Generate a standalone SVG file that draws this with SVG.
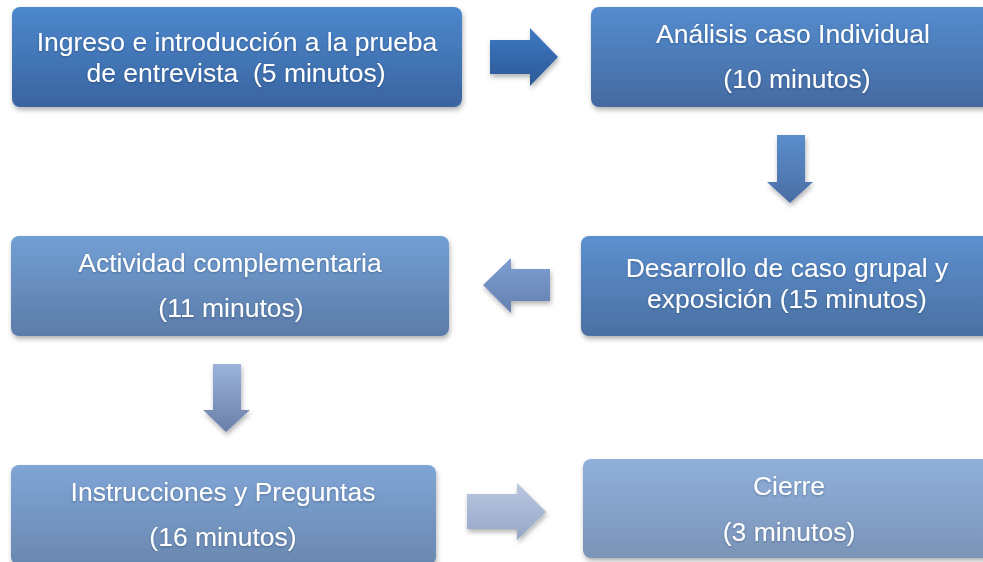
<svg xmlns="http://www.w3.org/2000/svg" width="983" height="562" viewBox="0 0 983 562">
<style>
.t{font-family:"Liberation Sans",Arial,sans-serif;font-size:26.5px;fill:#ffffff;text-anchor:middle}
.box{filter:url(#sh)}
</style>
<defs>
<filter id="sh" x="-10%" y="-20%" width="120%" height="150%">
<feDropShadow dx="1" dy="3" stdDeviation="2.5" flood-color="#000" flood-opacity="0.3"/>
</filter>
<filter id="ts" x="-5%" y="-20%" width="110%" height="150%">
<feDropShadow dx="0" dy="1" stdDeviation="1" flood-color="#1a2a40" flood-opacity="0.35"/>
</filter>
<linearGradient id="g1" x1="0" y1="0" x2="0" y2="1"><stop offset="0" stop-color="#4c88cd"/><stop offset="1" stop-color="#3a64a0"/></linearGradient>
<linearGradient id="g2" x1="0" y1="0" x2="0" y2="1"><stop offset="0" stop-color="#548cce"/><stop offset="1" stop-color="#456aa1"/></linearGradient>
<linearGradient id="g3" x1="0" y1="0" x2="0" y2="1"><stop offset="0" stop-color="#5c90cf"/><stop offset="1" stop-color="#4b70a2"/></linearGradient>
<linearGradient id="g4" x1="0" y1="0" x2="0" y2="1"><stop offset="0" stop-color="#729fd4"/><stop offset="1" stop-color="#5c7ca8"/></linearGradient>
<linearGradient id="g5" x1="0" y1="0" x2="0" y2="1"><stop offset="0" stop-color="#7fa5d6"/><stop offset="1" stop-color="#6a88b0"/></linearGradient>
<linearGradient id="g6" x1="0" y1="0" x2="0" y2="1"><stop offset="0" stop-color="#8fb0db"/><stop offset="1" stop-color="#7b94b8"/></linearGradient>
<linearGradient id="a1" x1="0" y1="0" x2="0" y2="1"><stop offset="0" stop-color="#3e7ac4"/><stop offset="1" stop-color="#2c5896"/></linearGradient>
<linearGradient id="a2" x1="0" y1="0" x2="0" y2="1"><stop offset="0" stop-color="#5b8dcd"/><stop offset="1" stop-color="#4a6ea3"/></linearGradient>
<linearGradient id="a3" x1="0" y1="0" x2="0" y2="1"><stop offset="0" stop-color="#7d9ed2"/><stop offset="1" stop-color="#6580b0"/></linearGradient>
<linearGradient id="a4" x1="0" y1="0" x2="0" y2="1"><stop offset="0" stop-color="#9bb3db"/><stop offset="1" stop-color="#6a7fa8"/></linearGradient>
<linearGradient id="a5" x1="0" y1="0" x2="0" y2="1"><stop offset="0" stop-color="#bac7e1"/><stop offset="1" stop-color="#95a6c7"/></linearGradient>
</defs>

<g id="connectors">
<polygon class="box" fill="url(#a1)" points="490,40 530,40 530,28 558,57 530,86 530,74 490,74"/>
<polygon class="box" fill="url(#a2)" points="777,135 805,135 805,182 813,182 790,203 767,182 777,182"/>
<polygon class="box" fill="url(#a3)" points="550,269 511,269 511,258 483,285 511,313 511,301 550,301"/>
<polygon class="box" fill="url(#a4)" points="213,364 241,364 241,410 250,410 226,432 203,410 213,410"/>
<polygon class="box" fill="url(#a5)" points="467,494 517,494 517,483 546,512 517,540 517,529 467,529"/>
</g>

<g id="n1">
<rect class="box" x="12" y="7" width="450" height="100" rx="8" fill="url(#g1)"/>
<text class="t" x="237" y="51" filter="url(#ts)">Ingreso e introducción a la prueba</text>
<text class="t" x="236" y="82" xml:space="preserve" filter="url(#ts)">de entrevista  (5 minutos)</text>
</g>

<g id="n2">
<rect class="box" x="591" y="7" width="404" height="100" rx="8" fill="url(#g2)"/>
<text class="t" x="793" y="43" filter="url(#ts)">Análisis caso Individual</text>
<text class="t" x="797" y="88" filter="url(#ts)">(10 minutos)</text>
</g>

<g id="n3">
<rect class="box" x="581" y="236" width="414" height="100" rx="8" fill="url(#g3)"/>
<text class="t" x="787" y="277" filter="url(#ts)">Desarrollo de caso grupal y</text>
<text class="t" x="787" y="308" filter="url(#ts)">exposición (15 minutos)</text>
</g>

<g id="n4">
<rect class="box" x="11" y="236" width="438" height="100" rx="8" fill="url(#g4)"/>
<text class="t" x="230" y="272" filter="url(#ts)">Actividad complementaria</text>
<text class="t" x="231" y="317" filter="url(#ts)">(11 minutos)</text>
</g>

<g id="n5">
<rect class="box" x="11" y="465" width="425" height="100" rx="8" fill="url(#g5)"/>
<text class="t" x="223" y="501" filter="url(#ts)">Instrucciones y Preguntas</text>
<text class="t" x="223" y="546" filter="url(#ts)">(16 minutos)</text>
</g>

<g id="n6">
<rect class="box" x="583" y="459" width="412" height="99" rx="8" fill="url(#g6)"/>
<text class="t" x="789" y="495" filter="url(#ts)">Cierre</text>
<text class="t" x="789" y="541" filter="url(#ts)">(3 minutos)</text>
</g>
</svg>
